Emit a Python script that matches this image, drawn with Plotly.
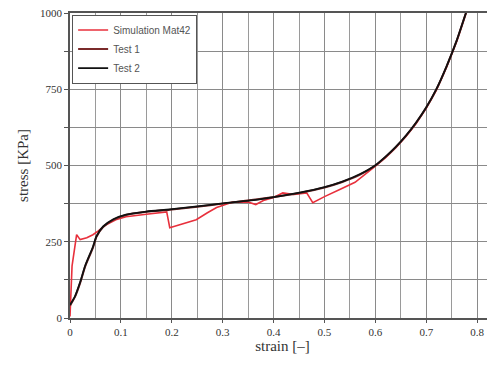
import plotly.graph_objects as go

# Simulation Mat42
sim_x = [0.0, 0.004, 0.013, 0.02, 0.033, 0.045, 0.055, 0.07, 0.09, 0.11, 0.15, 0.19, 0.196, 0.22, 0.248, 0.27, 0.288, 0.32, 0.35, 0.365, 0.38, 0.40, 0.418, 0.44, 0.465, 0.477, 0.50, 0.53, 0.56, 0.60, 0.62, 0.64, 0.66, 0.68, 0.70, 0.72, 0.74, 0.76, 0.778, 0.782]
sim_y = [5, 170, 273, 257, 263, 273, 285, 305, 322, 332, 340, 348, 296, 308, 322, 345, 362, 380, 380, 372, 385, 395, 410, 405, 410, 378, 398, 421, 445, 498, 526, 558, 595, 638, 688, 748, 823, 908, 1000, 1020]

# Test 1
t1_x = [0.0, 0.01, 0.02, 0.03, 0.045, 0.052, 0.065, 0.085, 0.11, 0.15, 0.196, 0.25, 0.30, 0.372, 0.451, 0.50, 0.535, 0.57, 0.60, 0.62, 0.64, 0.66, 0.68, 0.70, 0.72, 0.74, 0.76, 0.778, 0.782]
t1_y = [40, 70, 115, 170, 230, 266, 298, 322, 338, 348, 355, 365, 375, 390, 410, 428, 446, 470, 500, 528, 560, 597, 640, 690, 750, 825, 910, 1000, 1020]

# Test 2
t2_x = [0.0, 0.01, 0.02, 0.03, 0.045, 0.052, 0.065, 0.085, 0.11, 0.15, 0.196, 0.25, 0.30, 0.372, 0.451, 0.50, 0.535, 0.57, 0.60, 0.62, 0.64, 0.66, 0.68, 0.70, 0.72, 0.74, 0.76, 0.778, 0.782]
t2_y = [43, 72, 118, 172, 233, 268, 300, 324, 339, 349, 356, 366, 376, 389, 411, 429, 447, 472, 501, 529, 561, 598, 641, 691, 751, 826, 911, 1001, 1021]

fig = go.Figure()
fig.add_trace(go.Scatter(x=sim_x, y=sim_y, mode="lines", name="Simulation Mat42",
                         line=dict(color="#e8303c", width=1.6)))
fig.add_trace(go.Scatter(x=t1_x, y=t1_y, mode="lines", name="Test 1",
                         line=dict(color="#7a2a2a", width=2, shape="spline", smoothing=0.6)))
fig.add_trace(go.Scatter(x=t2_x, y=t2_y, mode="lines", name="Test 2",
                         line=dict(color="#111111", width=1.8, shape="spline", smoothing=0.6)))

fig.update_layout(
    width=487, height=366,
    margin=dict(l=62, r=0, t=5, b=56),
    paper_bgcolor="white", plot_bgcolor="white",
    showlegend=True,
    legend=dict(x=0.005, y=0.995, xanchor="left", yanchor="top",
                bgcolor="white", bordercolor="#555", borderwidth=1,
                font=dict(family="Arial, Liberation Sans", size=10, color="#555"),
                tracegroupgap=0, itemwidth=30),
    font=dict(family="Liberation Serif, Times New Roman, serif", color="#333"),
)
fig.update_xaxes(range=[0, 0.835], tickvals=[0, 0.1, 0.2, 0.3, 0.4, 0.5, 0.6, 0.7, 0.8],
                 ticktext=["0", "0.1", "0.2", "0.3", "0.4", "0.5", "0.6", "0.7", "0.8"],
                 showgrid=True, gridcolor="#8a8a8a", gridwidth=1,
                 minor=dict(dtick=0.05, tick0=0, showgrid=True, gridcolor="#9a9a9a", gridwidth=1),
                 showline=True, linecolor="#555", linewidth=1.5, mirror=True, zeroline=False,
                 ticks="outside", ticklen=3, tickcolor="#555",
                 tickfont=dict(size=11), ticklabeloverflow="allow",
                 title=dict(text="strain [\u2013]", font=dict(size=15), standoff=4))
fig.update_yaxes(range=[0, 1000], tickvals=[0, 250, 500, 750, 1000],
                 showgrid=True, gridcolor="#8a8a8a", gridwidth=1,
                 minor=dict(dtick=125, tick0=0, showgrid=True, gridcolor="#8a8a8a", gridwidth=1,
                            ticks="outside", ticklen=4, tickcolor="#555"),
                 showline=True, linecolor="#555", linewidth=1.5, mirror=False, zeroline=False,
                 ticks="outside", ticklen=4, tickcolor="#555",
                 tickfont=dict(size=11), ticklabeloverflow="allow",
                 title=dict(text="stress [KPa]", font=dict(size=15), standoff=8))

fig.write_html("out.html")
